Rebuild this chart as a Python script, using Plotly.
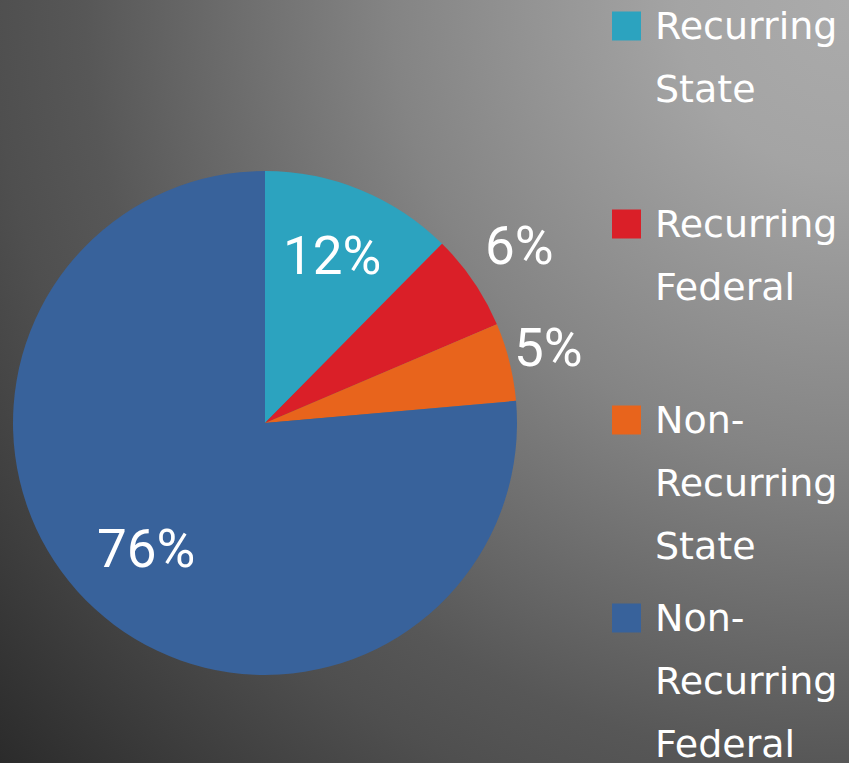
import base64
import math
import plotly.graph_objects as go

# ---- data ----
categories = ["Recurring State", "Recurring Federal", "Non-Recurring State", "Non-Recurring Federal"]
values = [12.4, 6.2, 5.0, 76.4]
legend_lines = [["Recurring", "State"], ["Recurring", "Federal"],
                ["Non-", "Recurring", "State"], ["Non-", "Recurring", "Federal"]]
colors = ["#2CA3BF", "#DA1F28", "#E8641C", "#38629B"]
label_radius = [0.70, 1.22, 1.16, 0.70]  # label distance, as a fraction of the radius

W, H = 849, 763
CX, CY, R = 265, 423, 252  # pie centre and radius in pixels

# background radial gradient (as an SVG image)
svg = (
    f'<svg xmlns="http://www.w3.org/2000/svg" width="{W}" height="{H}">'
    '<defs><radialGradient id="g" gradientUnits="userSpaceOnUse" cx="849" cy="0" r="1141">'
    '<stop offset="0" stop-color="#ABABAB"/>'
    '<stop offset="0.15" stop-color="#A4A4A4"/>'
    '<stop offset="0.4" stop-color="#848484"/>'
    '<stop offset="0.67" stop-color="#575757"/>'
    '<stop offset="0.75" stop-color="#4F4F4F"/>'
    '<stop offset="1" stop-color="#2B2B2B"/>'
    '</radialGradient></defs>'
    f'<rect width="{W}" height="{H}" fill="url(#g)"/></svg>'
)
bg_src = "data:image/svg+xml;base64," + base64.b64encode(svg.encode()).decode()

fig = go.Figure()
fig.add_trace(go.Pie(
    labels=categories,
    values=values,
    sort=False,
    direction="clockwise",
    rotation=0,
    marker=dict(colors=colors, line=dict(width=0)),
    textinfo="none",
    hoverinfo="label+percent",
    showlegend=False,
    domain=dict(x=[(CX - R) / W, (CX + R) / W], y=[1 - (CY + R) / H, 1 - (CY - R) / H]),
))

annotations = []
shapes = []

# percentage labels, placed from the slice mid-angles
total = sum(values)
cum = 0.0
for v, rf in zip(values, label_radius):
    frac = v / total
    mid = (cum + frac / 2) * 2 * math.pi
    cum += frac
    rr = R * rf
    px = CX + rr * math.sin(mid)
    py = CY - rr * math.cos(mid)
    annotations.append(dict(text=f"{round(frac * 100)}%", xref="paper", yref="paper",
                            x=px / W, y=1 - py / H, xanchor="center", yanchor="middle",
                            yshift=4, showarrow=False,
                            font=dict(family="Roboto", size=53, color="white")))

# legend drawn on the right
item_top = [26, 224, 420, 618]
line_gap = 63
for i, lines in enumerate(legend_lines):
    yc = item_top[i]
    shapes.append(dict(type="rect", xref="paper", yref="paper",
                       x0=612 / W, x1=641 / W, y0=1 - (yc - 14.5) / H, y1=1 - (yc + 14.5) / H,
                       fillcolor=colors[i], line=dict(width=0)))
    for j, txt in enumerate(lines):
        annotations.append(dict(text=txt, xref="paper", yref="paper",
                                x=653 / W, y=1 - (yc + j * line_gap) / H,
                                xanchor="left", yanchor="middle", showarrow=False,
                                font=dict(family="DejaVu Sans", size=38, color="white")))

fig.update_layout(
    width=W, height=H,
    margin=dict(l=0, r=0, t=0, b=0),
    paper_bgcolor="#555555",
    plot_bgcolor="rgba(0,0,0,0)",
    images=[dict(source=bg_src, xref="paper", yref="paper", x=0, y=1,
                 sizex=1, sizey=1, xanchor="left", yanchor="top",
                 sizing="stretch", layer="below")],
    shapes=shapes,
    annotations=annotations,
)

fig.write_html("out.html", config={"displayModeBar": False},
               post_script="document.body.style.margin='0';document.body.style.overflow='hidden';")
